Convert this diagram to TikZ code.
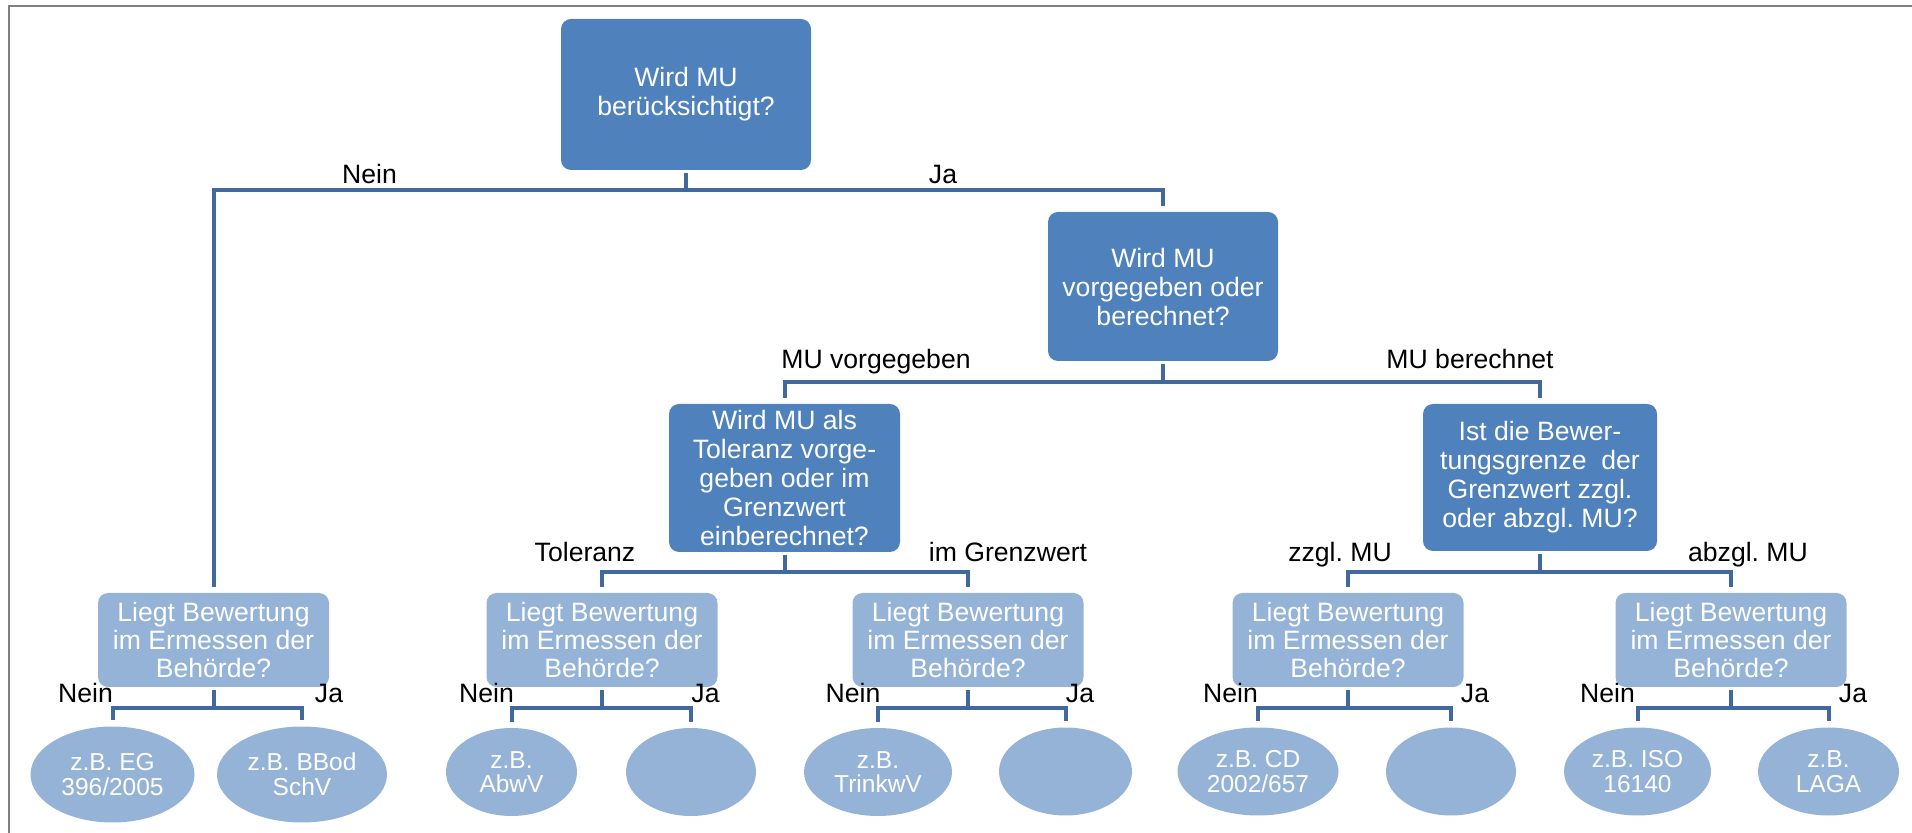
\documentclass[tikz,border=0pt]{standalone}
\usepackage{fontspec}
\setmainfont{Liberation Sans}
\usetikzlibrary{shapes.geometric}
\frenchspacing

\definecolor{darkbox}{HTML}{4F81BD}
\definecolor{lightbox}{HTML}{95B3D7}
\definecolor{linecol}{HTML}{41699D}
\definecolor{framecol}{HTML}{808080}

\tikzset{
  qbox/.style={draw=none, fill=darkbox, rounded corners=5pt, text=white,
    align=center, inner sep=0pt, font=\fontsize{13.3}{14.5}\selectfont},
  lbox/.style={draw=none, fill=lightbox, rounded corners=5pt, text=white,
    align=center, inner sep=0pt, minimum width=115.5pt, minimum height=47pt,
    font=\fontsize{13.3}{13.8}\selectfont},
  leaf/.style={ellipse, draw=none, fill=lightbox, text=white, align=center,
    inner sep=0pt, minimum height=44pt, font=\fontsize{12.25}{12.3}\selectfont},
  conn/.style={draw=linecol, line width=2pt, shorten <=1.2pt, shorten >=3pt},
  lbl/.style={anchor=base, inner sep=0pt, text=black,
    font=\fontsize{13.3}{14.5}\selectfont},
}

\begin{document}
\begin{tikzpicture}[x=0.5pt, y=-0.5pt]
\useasboundingbox (0,0) rectangle (1912,833);

% frame on the top and left sides
\draw[framecol, line width=1pt] (9,833) -- (9,6) -- (1912,6);

% decision boxes
\node[qbox, minimum width=125pt, minimum height=75.5pt] (top) at (686,94.5)
  {Wird MU\\berücksichtigt?};
\node[qbox, minimum width=115pt, minimum height=74.5pt] (b2) at (1163,286.5)
  {Wird MU\\vorgegeben oder\\berechnet?};
\node[qbox, minimum width=115.5pt, minimum height=74pt] (b3) at (784.5,478)
  {Wird MU als\\Toleranz vorge-\\geben oder im\\Grenzwert\\einberechnet?};
\node[qbox, minimum width=117pt, minimum height=73.5pt] (b4) at (1540,477.5)
  {Ist die Bewer-\\tungsgrenze\ \ der\\Grenzwert zzgl.\\oder abzgl. MU?};

% discretion boxes
\node[lbox] (l1) at (213.5,640) {Liegt Bewertung\\im Ermessen der\\Behörde?};
\node[lbox] (l2) at (602,640)   {Liegt Bewertung\\im Ermessen der\\Behörde?};
\node[lbox] (l3) at (968,640)   {Liegt Bewertung\\im Ermessen der\\Behörde?};
\node[lbox] (l4) at (1348,640)  {Liegt Bewertung\\im Ermessen der\\Behörde?};
\node[lbox] (l5) at (1731,640)  {Liegt Bewertung\\im Ermessen der\\Behörde?};

% example leaves
\node[leaf, minimum width=82pt, minimum height=48pt] (e1) at (112.5,774.5) {z.B. EG\\396/2005};
\node[leaf, minimum width=85pt, minimum height=48pt] (e2) at (302,774.5) {z.B. BBod\\SchV};
\node[leaf, minimum width=65.5pt] (e3) at (511.5,772) {z.B.\\AbwV};
\node[leaf, minimum width=65pt]   (e4) at (691,772) {};
\node[leaf, minimum width=74pt]   (e5) at (878,772) {z.B.\\TrinkwV};
\node[leaf, minimum width=66.5pt] (e6) at (1065.5,771.5) {};
\node[leaf, minimum width=80.5pt] (e7) at (1258,771.5) {z.B. CD\\2002/657};
\node[leaf, minimum width=65pt]   (e8) at (1451,771.5) {};
\node[leaf, minimum width=73.5pt] (e9) at (1637.5,771.5) {z.B. ISO\\16140};
\node[leaf, minimum width=70.5pt] (e10) at (1828.5,771.5) {z.B.\\LAGA};

% junction points
\coordinate (jt) at (686,190);
\coordinate (j2) at (1163,382);
\coordinate (j3) at (784.5,572);
\coordinate (j4) at (1540,572);
\coordinate (k1) at (213.5,708);

% connectors
\draw[conn] (top.south) -- (jt) -| (l1.north);
\draw[conn] (top.south) -- (jt) -| (b2.north);
\draw[conn] (b2.south) -- (j2) -| (b3.north);
\draw[conn] (b2.south) -- (j2) -| (b4.north);
\draw[conn] (b3.south) -- (j3) -| (l2.north);
\draw[conn] (b3.south) -- (j3) -| (l3.north);
\draw[conn] (b4.south) -- (j4) -| (l4.north);
\draw[conn] (b4.south) -- (j4) -| (l5.north);
\foreach \p/\a/\b in {l1/e1/e2, l2/e3/e4, l3/e5/e6, l4/e7/e8, l5/e9/e10}{
  \draw[conn] (\p.south) -- (\p.south |- k1) -| (\a.north);
  \draw[conn] (\p.south) -- (\p.south |- k1) -| (\b.north);
}

% branch labels
\node[lbl] (tn) at (369.5,184) {Nein};
\node[lbl] (tj) at (943,184) {Ja};
\node[lbl] (mv) at (876,369) {MU vorgegeben};
\node[lbl] (mb) at (1470,369) {MU berechnet};
\node[lbl] (to) at (585,562) {Toleranz};
\node[lbl] (ig) at (1008,562) {im Grenzwert};
\node[lbl] (zz) at (1340,562) {zzgl. MU};
\node[lbl] (ab) at (1748,562) {abzgl. MU};
\node[lbl] (n1) at (85.5,702.5) {Nein};
\node[lbl] (y1) at (329,702.5) {Ja};
\node[lbl] (n2) at (486.5,702.5) {Nein};
\node[lbl] (y2) at (705.5,702.5) {Ja};
\node[lbl] (n3) at (853,702.5) {Nein};
\node[lbl] (y3) at (1080,702.5) {Ja};
\node[lbl] (n4) at (1230.5,702.5) {Nein};
\node[lbl] (y4) at (1475,702.5) {Ja};
\node[lbl] (n5) at (1607.5,702.5) {Nein};
\node[lbl] (y5) at (1853,702.5) {Ja};
\end{tikzpicture}
\end{document}
